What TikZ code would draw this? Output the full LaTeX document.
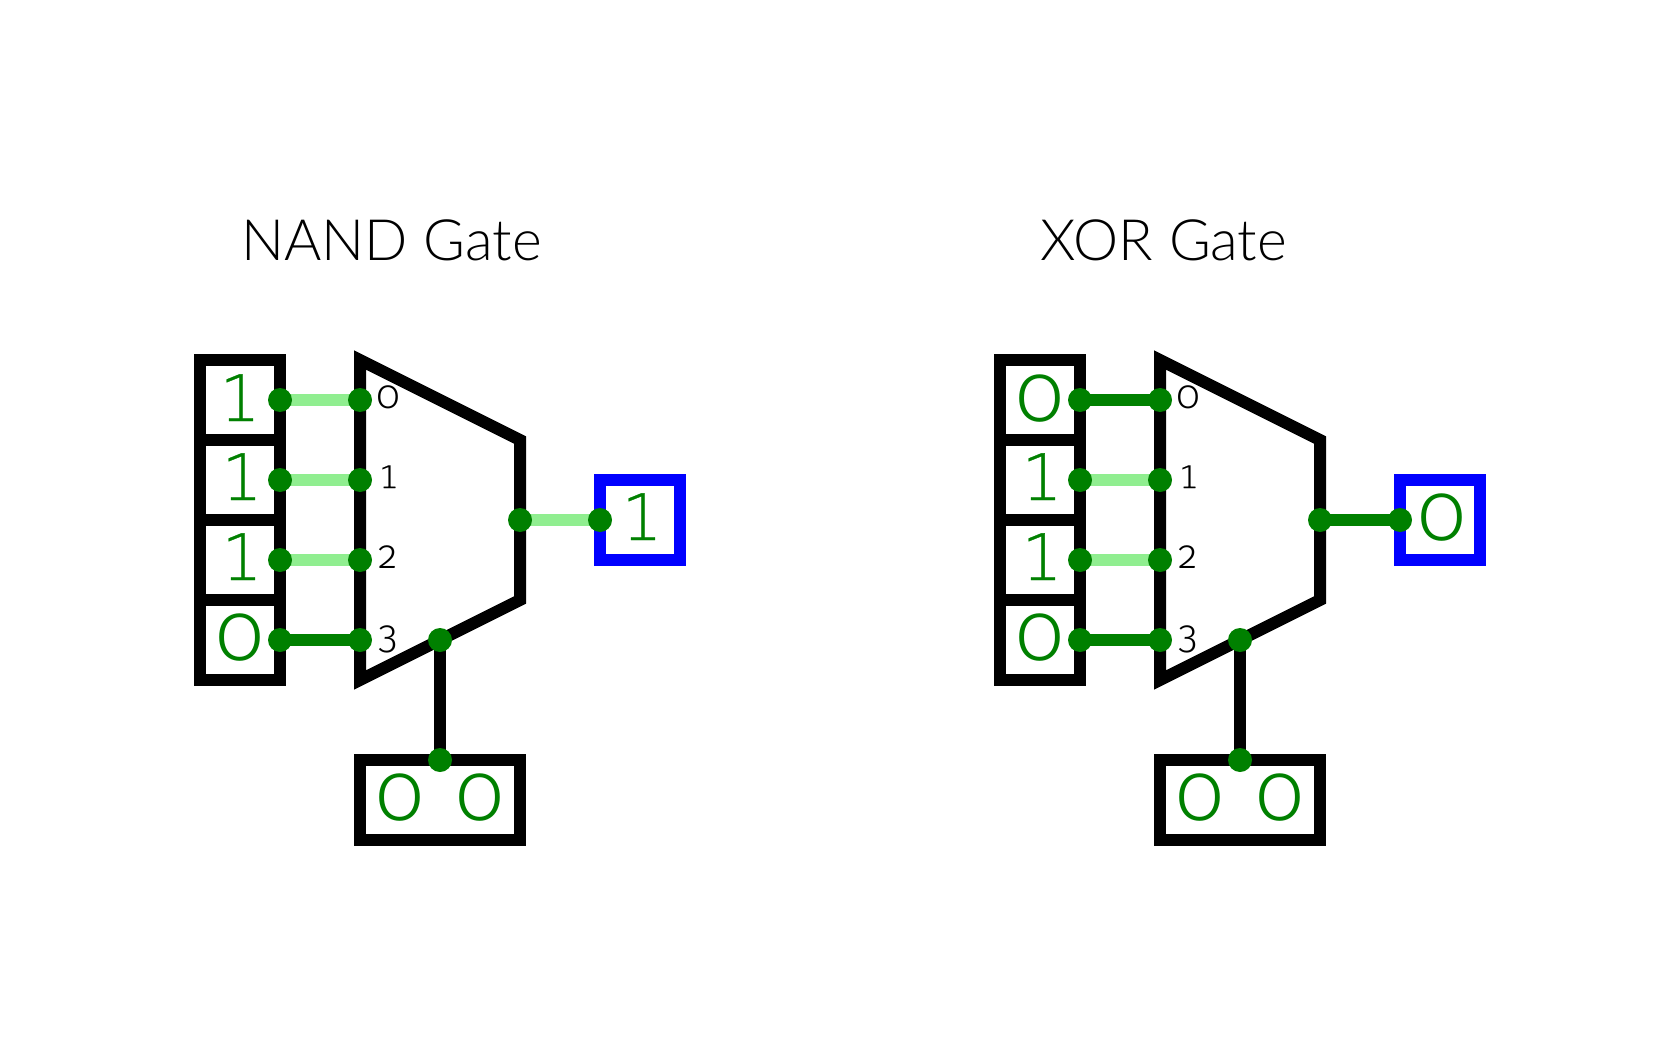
\documentclass[tikz,border=0pt]{standalone}
\usepackage{fontspec}
\usetikzlibrary{backgrounds}
\setmainfont{Lato Light}
\newfontfamily\digitfont[Numbers=OldStyle]{Fira Sans Light}
\newfontfamily\onefont[FakeBold=0.5]{DejaVu Sans ExtraLight}
\definecolor{wireon}{HTML}{008000}
\definecolor{wireoff}{HTML}{90EE90}
\definecolor{outblue}{HTML}{0000FF}
\newcommand{\bigone}{{\onefont\fontsize{64}{64}\selectfont 1}}
\newcommand{\smallone}{{\onefont\fontsize{31}{31}\selectfont 1}}
\tikzset{
  x=1pt,y=-1pt,
  cell/.style={draw=black,line width=12pt,rectangle,inner sep=0pt,outer sep=0pt,minimum width=80pt,minimum height=80pt},
  outcell/.style={cell,draw=outblue},
  selcell/.style={cell,minimum width=160pt},
  muxshape/.style={draw=black,line width=12pt,line join=miter,miter limit=10},
  pin/.style={circle,fill=wireon,inner sep=0pt,outer sep=0pt,minimum size=24pt},
  hot/.style={draw=wireon,line width=12pt},
  cold/.style={draw=wireoff,line width=12pt},
  blackwire/.style={draw=black,line width=12pt},
  bit/.style={anchor=base,text=wireon,inner sep=0pt,font=\digitfont\fontsize{82}{82}\selectfont},
  idx/.style={anchor=base,text=black,inner sep=0pt,font=\digitfont\fontsize{40}{40}\selectfont},
  gatetitle/.style={anchor=base,text=black,inner sep=0pt,font=\fontsize{57}{60}\selectfont},
}
\newcommand{\gate}[8]{%
  \begin{scope}[shift={(#1,0)}]
    \node[cell] (#2c0) at (240,400) {};
    \node[cell] (#2c1) at (240,480) {};
    \node[cell] (#2c2) at (240,560) {};
    \node[cell] (#2c3) at (240,640) {};
    \draw[muxshape] (360,360) -- (520,440) -- (520,600) -- (360,680) -- cycle;
    \node[outcell] (#2out) at (640,520) {};
    \node[selcell] (#2sel) at (440,800) {};
    \node[bit] (#2b0) at (240,421) {#3};
    \node[bit] (#2b1) at (242,500) {#4};
    \node[bit] (#2b2) at (242,580) {#5};
    \node[bit] (#2b3) at (240,660) {#6};
    \node[bit] (#2bo) at (642,540) {#7};
    \node[bit] (#2bs0) at (400,820) {0};
    \node[bit] (#2bs1) at (480,820) {0};
    \node[idx] (#2i0) at (388,408) {0};
    \node[idx] (#2i1) at (389,488) {\smallone};
    \node[idx] (#2i2) at (388,568) {2};
    \node[idx] (#2i3) at (388,648) {3};
    \node[pin] (#2a0) at (280,400) {};
    \node[pin] (#2a1) at (280,480) {};
    \node[pin] (#2a2) at (280,560) {};
    \node[pin] (#2a3) at (280,640) {};
    \node[pin] (#2m0) at (360,400) {};
    \node[pin] (#2m1) at (360,480) {};
    \node[pin] (#2m2) at (360,560) {};
    \node[pin] (#2m3) at (360,640) {};
    \node[pin] (#2mo) at (520,520) {};
    \node[pin] (#2po) at (600,520) {};
    \node[pin] (#2ms) at (440,640) {};
    \node[pin] (#2ps) at (440,760) {};
    \begin{pgfonlayer}{background}
      #8
      \draw[blackwire] (#2ms.center) -- (#2ps.center);
    \end{pgfonlayer}
  \end{scope}%
}
\begin{document}
\begin{tikzpicture}
  \useasboundingbox (0,0) rectangle (1680,1040);
  \node[gatetitle] (title1) at (391.5,261) {NAND Gate};
  \node[gatetitle] (title2) at (1163.5,261) {XOR Gate};
  \gate{0}{p}{\bigone}{\bigone}{\bigone}{0}{\bigone}{%
    \draw[cold] (pa0.center) -- (pm0.center);
    \draw[cold] (pa1.center) -- (pm1.center);
    \draw[cold] (pa2.center) -- (pm2.center);
    \draw[hot] (pa3.center) -- (pm3.center);
    \draw[cold] (pmo.center) -- (ppo.center);
  }
  \gate{800}{q}{0}{\bigone}{\bigone}{0}{0}{%
    \draw[hot] (qa0.center) -- (qm0.center);
    \draw[cold] (qa1.center) -- (qm1.center);
    \draw[cold] (qa2.center) -- (qm2.center);
    \draw[hot] (qa3.center) -- (qm3.center);
    \draw[hot] (qmo.center) -- (qpo.center);
  }
\end{tikzpicture}
\end{document}
